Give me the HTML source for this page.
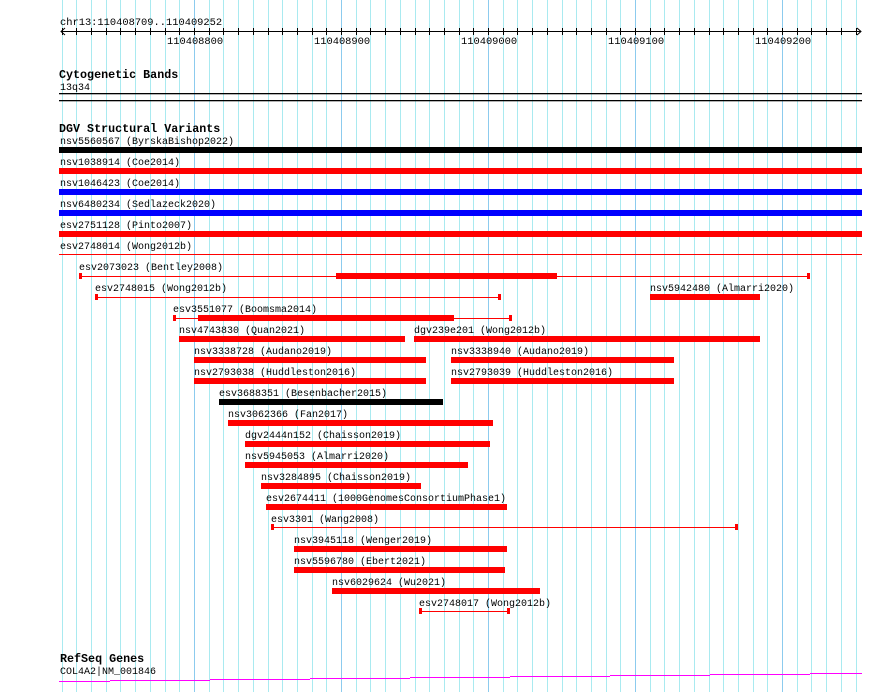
<!DOCTYPE html>
<html><head><meta charset="utf-8"><style>
html,body{margin:0;padding:0;background:#fff;}
svg{display:block;}
text{font-family:"Liberation Mono",monospace;font-size:10px;fill:#000;}
.b{font-weight:bold;font-size:11.7px;}
</style></head><body>
<svg width="890" height="692" viewBox="0 0 890 692" xmlns="http://www.w3.org/2000/svg">
<path stroke="#a9eaf0" stroke-width="1" fill="none" d="M62.5 0V692M76.5 0V692M91.5 0V692M106.5 0V692M120.5 0V692M135.5 0V692M150.5 0V692M165.5 0V692M179.5 0V692M209.5 0V692M223.5 0V692M238.5 0V692M253.5 0V692M268.5 0V692M282.5 0V692M297.5 0V692M312.5 0V692M326.5 0V692M356.5 0V692M370.5 0V692M385.5 0V692M400.5 0V692M415.5 0V692M429.5 0V692M444.5 0V692M459.5 0V692M473.5 0V692M503.5 0V692M517.5 0V692M532.5 0V692M547.5 0V692M562.5 0V692M576.5 0V692M591.5 0V692M606.5 0V692M620.5 0V692M650.5 0V692M664.5 0V692M679.5 0V692M694.5 0V692M709.5 0V692M723.5 0V692M738.5 0V692M753.5 0V692M767.5 0V692M797.5 0V692M811.5 0V692M826.5 0V692M841.5 0V692M856.5 0V692"/>
<path stroke="#8ccbee" stroke-width="1" fill="none" d="M194.5 0V692M341.5 0V692M488.5 0V692M635.5 0V692M782.5 0V692"/>
<path stroke="#000" stroke-width="1" fill="none" d="M62.5 28V35M76.5 28V35M91.5 28V35M106.5 28V35M120.5 28V35M135.5 28V35M150.5 28V35M165.5 28V35M179.5 28V35M194.5 28V35M209.5 28V35M223.5 28V35M238.5 28V35M253.5 28V35M268.5 28V35M282.5 28V35M297.5 28V35M312.5 28V35M326.5 28V35M341.5 28V35M356.5 28V35M370.5 28V35M385.5 28V35M400.5 28V35M415.5 28V35M429.5 28V35M444.5 28V35M459.5 28V35M473.5 28V35M488.5 28V35M503.5 28V35M517.5 28V35M532.5 28V35M547.5 28V35M562.5 28V35M576.5 28V35M591.5 28V35M606.5 28V35M620.5 28V35M635.5 28V35M650.5 28V35M664.5 28V35M679.5 28V35M694.5 28V35M709.5 28V35M723.5 28V35M738.5 28V35M753.5 28V35M767.5 28V35M782.5 28V35M797.5 28V35M811.5 28V35M826.5 28V35M841.5 28V35M856.5 28V35"/>
<text x="60" y="25" style="font-size:10.4px">chr13:110408709..110409252</text>
<line x1="61" y1="31.5" x2="861" y2="31.5" stroke="#000"/>
<polyline points="65,28 61,31.5 65,35" fill="none" stroke="#000"/>
<polyline points="857,28 861,31.5 857,35" fill="none" stroke="#000"/>
<text x="167" y="44" style="font-size:10.4px">110408800</text>
<text x="314" y="44" style="font-size:10.4px">110408900</text>
<text x="461" y="44" style="font-size:10.4px">110409000</text>
<text x="608" y="44" style="font-size:10.4px">110409100</text>
<text x="755" y="44" style="font-size:10.4px">110409200</text>

<text class="b" x="59" y="78">Cytogenetic Bands</text>
<text x="60" y="90">13q34</text>
<rect x="59" y="93" width="803" height="1.3" fill="#000"/>
<rect x="59" y="100" width="803" height="1.3" fill="#000"/>

<text class="b" x="59" y="132">DGV Structural Variants</text>
<text x="60" y="144">nsv5560567 (ByrskaBishop2022)</text>
<rect x="59" y="147" width="803" height="6" fill="#000"/>
<text x="60" y="165">nsv1038914 (Coe2014)</text>
<rect x="59" y="168" width="803" height="6" fill="#f00"/>
<text x="60" y="186">nsv1046423 (Coe2014)</text>
<rect x="59" y="189" width="803" height="6" fill="#00f"/>
<text x="60" y="207">nsv6480234 (Sedlazeck2020)</text>
<rect x="59" y="210" width="803" height="6" fill="#00f"/>
<text x="60" y="228">esv2751128 (Pinto2007)</text>
<rect x="59" y="231" width="803" height="6" fill="#f00"/>
<text x="60" y="249">esv2748014 (Wong2012b)</text>
<rect x="59" y="254" width="803" height="1" fill="#f00"/>

<g fill="#f00">
<text x="79" y="270">esv2073023 (Bentley2008)</text>
<rect x="80" y="276" width="728" height="1"/><rect x="79" y="273" width="3" height="6"/><rect x="807" y="273" width="3" height="6"/>
<rect x="336" y="273" width="221" height="6"/>

<text x="95" y="291">esv2748015 (Wong2012b)</text>
<rect x="95" y="297" width="405" height="1"/><rect x="95" y="294" width="3" height="6"/><rect x="498" y="294" width="3" height="6"/>
<text x="650" y="291">nsv5942480 (Almarri2020)</text>
<rect x="650" y="294" width="110" height="6"/>

<text x="173" y="312">esv3551077 (Boomsma2014)</text>
<rect x="174" y="318" width="336" height="1"/><rect x="173" y="315" width="3" height="6"/><rect x="509" y="315" width="3" height="6"/>
<rect x="198" y="315" width="256" height="6"/>

<text x="179" y="333">nsv4743830 (Quan2021)</text>
<rect x="179" y="336" width="226" height="6"/>
<text x="414" y="333">dgv239e201 (Wong2012b)</text>
<rect x="414" y="336" width="346" height="6"/>

<text x="194" y="354">nsv3338728 (Audano2019)</text>
<rect x="194" y="357" width="232" height="6"/>
<text x="451" y="354">nsv3338940 (Audano2019)</text>
<rect x="451" y="357" width="223" height="6"/>

<text x="194" y="375">nsv2793038 (Huddleston2016)</text>
<rect x="194" y="378" width="232" height="6"/>
<text x="451" y="375">nsv2793039 (Huddleston2016)</text>
<rect x="451" y="378" width="223" height="6"/>

<text x="219" y="396">esv3688351 (Besenbacher2015)</text>
<rect x="219" y="399" width="224" height="6" fill="#000"/>

<text x="228" y="417">nsv3062366 (Fan2017)</text>
<rect x="228" y="420" width="265" height="6"/>
<text x="245" y="438">dgv2444n152 (Chaisson2019)</text>
<rect x="245" y="441" width="245" height="6"/>
<text x="245" y="459">nsv5945053 (Almarri2020)</text>
<rect x="245" y="462" width="223" height="6"/>
<text x="261" y="480">nsv3284895 (Chaisson2019)</text>
<rect x="261" y="483" width="160" height="6"/>
<text x="266" y="501">esv2674411 (1000GenomesConsortiumPhase1)</text>
<rect x="266" y="504" width="241" height="6"/>
<text x="271" y="522">esv3301 (Wang2008)</text>
<rect x="272" y="527" width="465" height="1"/><rect x="271" y="524" width="3" height="6"/><rect x="735" y="524" width="3" height="6"/>
<text x="294" y="543">nsv3945118 (Wenger2019)</text>
<rect x="294" y="546" width="213" height="6"/>
<text x="294" y="564">nsv5596780 (Ebert2021)</text>
<rect x="294" y="567" width="211" height="6"/>
<text x="332" y="585">nsv6029624 (Wu2021)</text>
<rect x="332" y="588" width="208" height="6"/>
<text x="419" y="606">esv2748017 (Wong2012b)</text>
<rect x="419" y="611" width="90" height="1"/><rect x="419" y="608" width="3" height="6"/><rect x="507" y="608" width="3" height="6"/>
</g>
<text x="60" y="662" class="b">RefSeq Genes</text>
<text x="60" y="674">COL4A2|NM_001846</text>
<g fill="#f0f">
<rect x="59" y="681" width="51" height="1"/>
<rect x="110" y="680" width="100" height="1"/>
<rect x="210" y="679" width="100" height="1"/>
<rect x="310" y="678" width="100" height="1"/>
<rect x="410" y="677" width="100" height="1"/>
<rect x="510" y="676" width="100" height="1"/>
<rect x="610" y="675" width="100" height="1"/>
<rect x="710" y="674" width="100" height="1"/>
<rect x="810" y="673" width="52" height="1"/>
</g>
</svg>
</body></html>
